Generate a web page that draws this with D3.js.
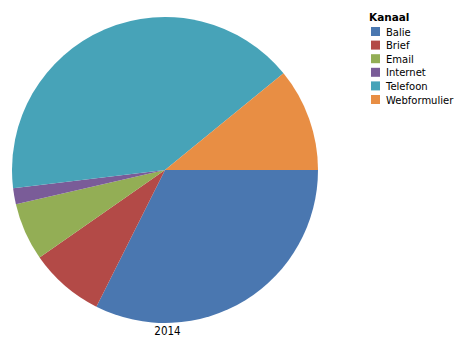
<!DOCTYPE html>
<html>
<head>
<meta charset="utf-8">
<script src="https://cdn.jsdelivr.net/npm/d3@7"></script>
<style>
  body { margin: 0; background: #fff; }
  text { font-family: "DejaVu Sans", Verdana, sans-serif; fill: #000; }
</style>
</head>
<body>
<div class="chart"></div>
<script>
//data (share per channel, %)
var kanalen = ["Balie", "Brief", "Email", "Internet", "Telefoon", "Webformulier"];
var aandeel = [32.4, 7.9, 6.1, 1.7, 41.0, 10.9];
var kleuren = ["#4a77b0", "#b34a47", "#93ae55", "#7a5c98", "#47a3b8", "#e88e44"];
var jaar = "2014";

var width = 463,
    height = 347,
    cx = 165,
    cy = 170,
    radius = 153;

var svg = d3.select(".chart").append("svg")
            .attr("width", width)
            .attr("height", height);

var color = d3.scaleOrdinal().domain(kanalen).range(kleuren);

//pie starts at 3 o'clock and runs clockwise
var pie = d3.pie()
            .sort(null)
            .startAngle(Math.PI / 2)
            .endAngle(Math.PI / 2 + 2 * Math.PI)
            .value(function(d, i) { return aandeel[i]; });

var arc = d3.arc().innerRadius(0).outerRadius(radius);

svg.append("g")
   .attr("transform", "translate(" + cx + "," + cy + ")")
   .selectAll("path")
   .data(pie(kanalen))
   .enter()
   .append("path")
   .attr("d", arc)
   .style("fill", function(d) { return color(d.data); });

//year label under the pie
svg.append("text")
   .attr("x", 167.5)
   .attr("y", 335)
   .attr("text-anchor", "middle")
   .style("font-family", "'DejaVu Sans Condensed', 'DejaVu Sans', sans-serif")
   .style("font-size", "11.5px")
   .text(jaar);

//legend
var legend = svg.append("g").attr("transform", "translate(369, 0)");

legend.append("text")
      .attr("x", 0)
      .attr("y", 21)
      .style("font-size", "10.5px")
      .style("font-weight", "bold")
      .text("Kanaal");

var y = d3.scalePoint().domain(kanalen).range([27, 95]);

var item = legend.selectAll(".item")
                 .data(kanalen)
                 .enter()
                 .append("g")
                 .attr("class", "item")
                 .attr("transform", function(d) { return "translate(0," + y(d) + ")"; });

item.append("rect")
    .attr("x", 2)
    .attr("y", 0)
    .attr("width", 9)
    .attr("height", 9)
    .style("fill", function(d) { return color(d); });

item.append("text")
    .attr("x", 17)
    .attr("y", 8.5)
    .style("font-size", "10px")
    .text(function(d) { return d; });
</script>
</body>
</html>
